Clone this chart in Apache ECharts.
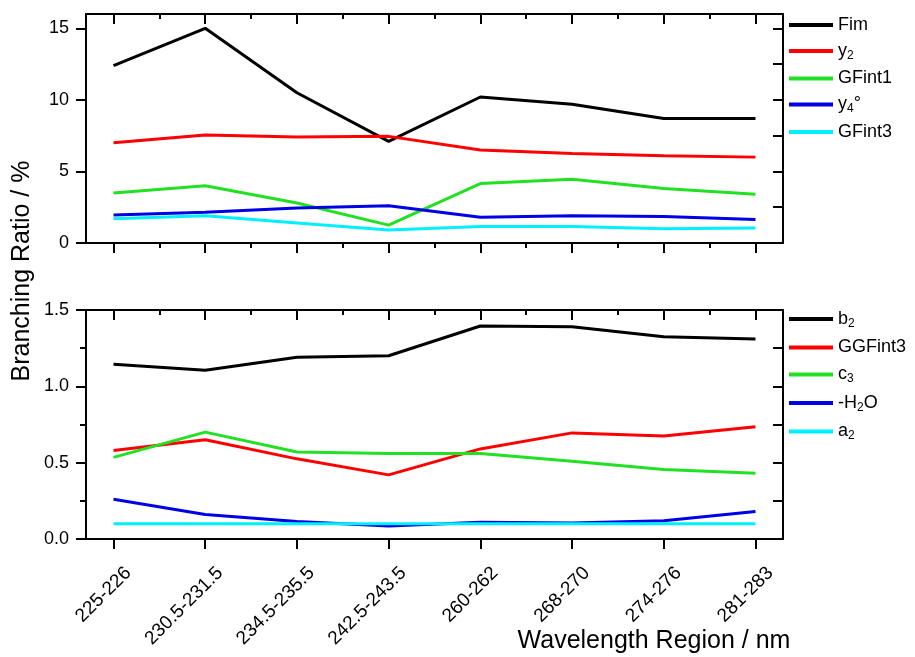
<!DOCTYPE html>
<html>
<head>
<meta charset="utf-8">
<script src="https://cdn.jsdelivr.net/npm/echarts@6/dist/echarts.min.js"></script>
<style>
  html, body { margin: 0; padding: 0; background: #fff; }
  #chart { width: 915px; height: 657px; }
</style>
</head>
<body>
<div id="chart"></div>
<script>
// wavelength regions (x categories)
const regions = ['225-226', '230.5-231.5', '234.5-235.5', '242.5-243.5', '260-262', '268-270', '274-276', '281-283'];
const xTicks = [0, 1, 2, 3, 4, 5, 6, 7];
const xMinorTicks = [0.5, 1.5, 2.5, 3.5, 4.5, 5.5, 6.5];

// upper panel
const topNames = ['Fim', 'y_2', 'GFint1', 'y_4°', 'GFint3'];
const fim = [12.4, 15.0, 10.5, 7.1, 10.2, 9.7, 8.7, 8.7];
const y2 = [7.0, 7.55, 7.4, 7.45, 6.5, 6.25, 6.1, 6.0];
const gfint1 = [3.5, 4.0, 2.8, 1.25, 4.15, 4.45, 3.8, 3.4];
const y4 = [1.95, 2.15, 2.45, 2.6, 1.8, 1.9, 1.85, 1.65];
const gfint3 = [1.7, 1.9, 1.4, 0.9, 1.15, 1.15, 1.0, 1.05];
const topYTicks = [0, 5, 10, 15];
const topYRightTicks = [0, 2.5, 5, 7.5, 10, 12.5, 15];

// lower panel
const botNames = ['b_2', 'GGFint3', 'c_3', '-H_2O', 'a_2'];
const b2 = [1.145, 1.105, 1.19, 1.2, 1.395, 1.39, 1.325, 1.31];
const ggfint3 = [0.58, 0.65, 0.525, 0.42, 0.59, 0.695, 0.675, 0.735];
const c3 = [0.535, 0.70, 0.57, 0.56, 0.56, 0.51, 0.455, 0.43];
const h2o = [0.26, 0.16, 0.115, 0.085, 0.11, 0.105, 0.12, 0.18];
const a2 = [0.1, 0.1, 0.1, 0.1, 0.1, 0.1, 0.1, 0.1];
const botYTicks = [0, 0.5, 1.0, 1.5];
const botYMinorTicks = [0.25, 0.75, 1.25];
const botYRightTicks = [0, 0.25, 0.5, 0.75, 1.0, 1.25, 1.5];

const colors = ['#000000', '#ff0000', '#22e022', '#0000e6', '#00f0ff'];
const FONT = '"Liberation Sans", Arial, sans-serif';

const myChart = echarts.init(document.getElementById('chart'));

const line = { color: '#000', width: 2 };

function xAxis(grid, position, ticks, len, inside, showLine) {
  return {
    type: 'value', gridIndex: grid, position: position,
    min: -0.3, max: 7.3,
    axisLine: { show: showLine, onZero: false, lineStyle: line },
    axisTick: { show: true, customValues: ticks, length: len, inside: inside, lineStyle: line },
    axisLabel: { show: false },
    splitLine: { show: false }
  };
}

function yAxis(grid, position, min, max, ticks, len, inside, labels, fmt) {
  return {
    type: 'value', gridIndex: grid, position: position,
    min: min, max: max,
    axisLine: { show: true, onZero: false, lineStyle: line },
    axisTick: { show: true, customValues: ticks, length: len, inside: inside, lineStyle: line },
    axisLabel: labels ? {
      show: true, customValues: ticks, margin: 17, color: '#000',
      fontSize: 18, fontFamily: FONT, formatter: fmt
    } : { show: false },
    splitLine: { show: false }
  };
}

function makeSeries(names, dataList, xi, yi) {
  return dataList.map((vals, k) => ({
    name: names[k],
    type: 'line',
    xAxisIndex: xi,
    yAxisIndex: yi,
    symbol: 'none',
    lineStyle: { width: 3, color: colors[k] },
    itemStyle: { color: colors[k] },
    data: vals.map((v, i) => [i, v])
  }));
}

function legendFmt(name) {
  return name.replace(/_(\d)/g, '{s|$1}');
}

function legend(names, top, gap) {
  return {
    data: names,
    orient: 'vertical',
    left: 789,
    top: top,
    padding: 0,
    icon: 'rect',
    itemWidth: 44,
    itemHeight: 4,
    itemGap: gap,
    formatter: legendFmt,
    textStyle: {
      color: '#000', fontSize: 18, fontFamily: FONT, padding: [0, 0, 0, 0],
      rich: { s: { fontSize: 12, fontFamily: FONT, color: '#000', padding: [9, 0, 0, 0] } }
    }
  };
}

const option = {
  animation: false,
  grid: [
    { left: 86, top: 14, width: 697, height: 229 },
    { left: 86, top: 310, width: 697, height: 229 }
  ],
  xAxis: [
    xAxis(0, 'bottom', xTicks, 10, false, true),
    xAxis(0, 'bottom', xMinorTicks, 5, false, false),
    xAxis(0, 'top', xTicks, 10, true, true),
    xAxis(0, 'top', xMinorTicks, 5, true, false),
    xAxis(1, 'bottom', xTicks, 10, false, true),
    xAxis(1, 'top', xTicks, 10, true, true),
    xAxis(1, 'top', xMinorTicks, 5, true, false),
    {
      // label axis, shifted so rotated labels sit like the original
      type: 'value', gridIndex: 1, position: 'bottom',
      min: -0.46, max: 7.14,
      axisLine: { show: false, onZero: false },
      axisTick: { show: false },
      axisLabel: {
        show: true, customValues: xTicks, rotate: 45, margin: 31,
        color: '#000', fontSize: 19, fontFamily: FONT,
        formatter: v => regions[Math.round(v)]
      },
      splitLine: { show: false }
    }
  ],
  yAxis: [
    yAxis(0, 'left', 0, 16, topYTicks, 10, false, true, v => String(v)),
    yAxis(0, 'right', 0, 16, topYRightTicks, 10, true, false),
    yAxis(1, 'left', 0, 1.5, botYTicks, 10, false, true, v => v.toFixed(1)),
    yAxis(1, 'left', 0, 1.5, botYMinorTicks, 6, false, false),
    yAxis(1, 'right', 0, 1.5, botYRightTicks, 10, true, false)
  ],
  legend: [legend(topNames, 16, 8), legend(botNames, 310, 9)],
  graphic: [
    {
      type: 'text', x: 22, y: 271, rotation: Math.PI / 2,
      style: { text: 'Branching Ratio / %', fontSize: 25, fontFamily: FONT, fill: '#000', textAlign: 'center', textVerticalAlign: 'middle' }
    },
    {
      type: 'text', x: 654, y: 641,
      style: { text: 'Wavelength Region / nm', fontSize: 25, fontFamily: FONT, fill: '#000', textAlign: 'center', textVerticalAlign: 'middle' }
    }
  ],
  series: [
    ...makeSeries(topNames, [fim, y2, gfint1, y4, gfint3], 0, 0),
    ...makeSeries(botNames, [b2, ggfint3, c3, h2o, a2], 4, 2)
  ]
};

myChart.setOption(option);
window.addEventListener('resize', () => {
  myChart.resize();
});
</script>
</body>
</html>
